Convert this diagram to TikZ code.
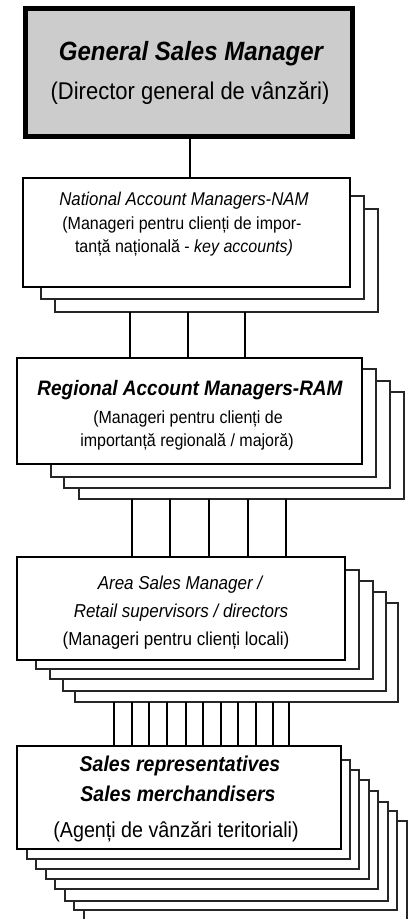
\documentclass[tikz,border=0pt]{standalone}
\usepackage{fontspec}
\usepackage{graphicx}
\setmainfont{Liberation Sans}
\usetikzlibrary{fit}
\definecolor{boxgray}{RGB}{204,204,204}
\newcommand{\tall}[1]{\scalebox{1}[1.1]{#1}}
\begin{document}
\begin{tikzpicture}[x=1pt,y=-1pt,
  sheet/.style={draw=black!85, fill=white, line width=1.1pt, inner sep=0pt, outer sep=0pt},
  frontbox/.style={draw=black, fill=white, line width=1.8pt, inner sep=0pt, outer sep=0pt},
  topbox/.style={draw=black, fill=boxgray, line width=5pt, inner sep=0pt, outer sep=0pt},
  link/.style={draw=black, line width=1.2pt},
  txt/.style={anchor=base, inner sep=0pt}]
\clip (0,0) rectangle (409,919);
\fill[white] (0,0) rectangle (409,919);

% General Sales Manager
\node[topbox, fit={(25.5,8) (352,136.5)}] (gsm) {};
\node[txt, font=\fontsize{24}{28}\selectfont\bfseries\itshape] (gsmA) at (191,60) {\tall{General Sales Manager}};
\node[txt, font=\fontsize{22}{26}\selectfont] (gsmB) at (190,99) {\tall{(Director general de vânzări)}};

% NAM
\node[sheet, fit={(55,209) (378,312)}] (nam3) {};
\node[sheet, fit={(41,196) (364,299)}] (nam2) {};
\node[frontbox, fit={(23,178) (350,287)}] (nam) {};
\node[txt, font=\fontsize{16.8}{20}\selectfont\itshape] (namA) at (184,205) {\tall{National Account Managers-NAM}};
\node[txt, font=\fontsize{16}{20}\selectfont] (namB) at (182,229) {\tall{(Manageri pentru clienți de impor-}};
\node[txt, font=\fontsize{16}{20}\selectfont] (namC) at (184,252) {\tall{tanță națională - \textit{key accounts)}}};

% RAM
\node[sheet, fit={(79,392) (404,499)}] (ram4) {};
\node[sheet, fit={(64,381) (390,488)}] (ram3) {};
\node[sheet, fit={(51,369) (376,477)}] (ram2) {};
\node[frontbox, fit={(17,358) (362,464)}] (ram) {};
\node[txt, font=\fontsize{19}{23}\selectfont\bfseries\itshape] (ramA) at (190,395) {\tall{Regional Account Managers-RAM}};
\node[txt, font=\fontsize{16}{20}\selectfont] (ramB) at (188,423) {\tall{(Manageri pentru clienți de}};
\node[txt, font=\fontsize{16}{20}\selectfont] (ramC) at (187,446) {\tall{importanță regională / majoră)}};

% Area
\node[sheet, fit={(75,603) (398,702)}] (ar5) {};
\node[sheet, fit={(63,592) (386,691)}] (ar4) {};
\node[sheet, fit={(50,581) (373,679)}] (ar3) {};
\node[sheet, fit={(36,570) (359,669)}] (ar2) {};
\node[frontbox, fit={(17,557) (345,660)}] (area) {};
\node[txt, font=\fontsize{17}{21}\selectfont\itshape] (arA) at (180,589) {\tall{Area Sales Manager /}};
\node[txt, font=\fontsize{17}{21}\selectfont\itshape] (arB) at (181,617) {\tall{Retail supervisors / directors}};
\node[txt, font=\fontsize{17}{21}\selectfont] (arC) at (176,645) {\tall{(Manageri pentru clienți locali)}};

% Sales
\node[sheet, fit={(84,821) (407,925)}] (sr8) {};
\node[sheet, fit={(74,811) (397,910)}] (sr7) {};
\node[sheet, fit={(65,802) (388,901)}] (sr6) {};
\node[sheet, fit={(55,791) (378,889)}] (sr5) {};
\node[sheet, fit={(46,780) (369,879)}] (sr4) {};
\node[sheet, fit={(36,770) (359,869)}] (sr3) {};
\node[sheet, fit={(27,760) (350,859)}] (sr2) {};
\node[frontbox, fit={(17,746) (341,849)}] (sales) {};
\node[txt, font=\fontsize{19.5}{23}\selectfont\bfseries\itshape] (srA) at (180,771) {\tall{Sales representatives}};
\node[txt, font=\fontsize{19.5}{23}\selectfont\bfseries\itshape] (srB) at (178,801) {\tall{Sales merchandisers}};
\node[txt, font=\fontsize{19.7}{23}\selectfont] (srC) at (176,837) {\tall{(Agenți de vânzări teritoriali)}};

% connectors
\draw[link] (gsm.south -| 190,0) -- (nam.north -| 190,0);
\foreach \xx in {130,188,245}
  \draw[link] (nam3.south -| \xx,0) -- (ram.north -| \xx,0);
\foreach \xx in {132,170,209,248,286}
  \draw[link] (ram4.south -| \xx,0) -- (area.north -| \xx,0);
\foreach \xx in {114,132,149,167,186,203,221,238,256,273,289}
  \draw[link] (ar5.south -| \xx,0) -- (sales.north -| \xx,0);
\end{tikzpicture}
\end{document}
